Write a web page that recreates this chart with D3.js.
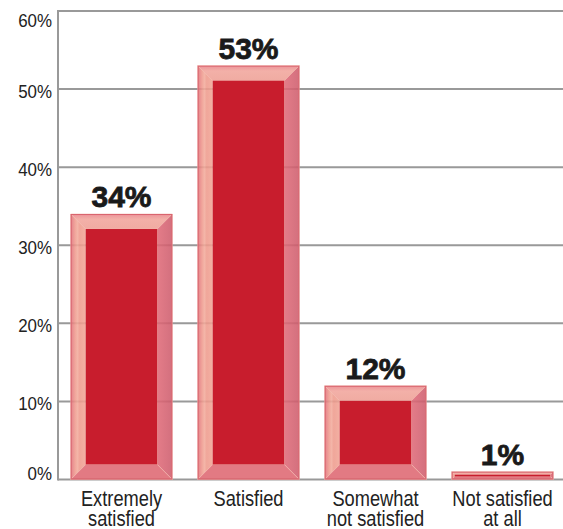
<!DOCTYPE html>
<html>
<head>
<meta charset="utf-8">
<script src="https://cdn.jsdelivr.net/npm/d3@7"></script>
<style>
  html, body { margin: 0; padding: 0; background: #fff; }
  svg { display: block; }
</style>
</head>
<body>
<svg id="chart" width="563" height="529"></svg>
<script>
// Survey results: share of respondents by satisfaction level
const categories = [
  ["Extremely", "satisfied"],
  ["Satisfied"],
  ["Somewhat", "not satisfied"],
  ["Not satisfied", "at all"]
];
const values = [34, 53, 12, 1];
const tickValues = [0, 10, 20, 30, 40, 50, 60];

const W = 563, H = 529;
const plotLeft = 58, plotRight = 566, plotTop = 11, plotBottom = 479.5;
const fontFamily = "'Liberation Sans', Arial, Helvetica, sans-serif";

const svg = d3.select("#chart");

const x = d3.scaleBand()
  .domain(d3.range(values.length))
  .range([plotLeft, plotRight])
  .paddingInner(0.2)
  .paddingOuter(0.1);

const y = d3.scaleLinear().domain([0, 60]).range([plotBottom, plotTop]);

// Horizontal gridlines
svg.append("g")
  .selectAll("line")
  .data(tickValues)
  .join("line")
  .attr("x1", plotLeft)
  .attr("x2", W)
  .attr("y1", d => y(d))
  .attr("y2", d => y(d))
  .attr("stroke", "#999")
  .attr("stroke-width", 2);

// Vertical axis line
svg.append("line")
  .attr("x1", plotLeft).attr("x2", plotLeft)
  .attr("y1", y(60) - 1).attr("y2", y(0) + 1)
  .attr("stroke", "#999")
  .attr("stroke-width", 2);

// Tick labels (kept inside the plot's vertical extent)
svg.append("g")
  .selectAll("g")
  .data(tickValues)
  .join("g")
  .attr("transform", d => `translate(52,${Math.min(480, Math.max(27, y(d) + 9))})`)
  .append("text")
  .attr("transform", "scale(0.94,1)")
  .attr("text-anchor", "end")
  .attr("font-family", fontFamily)
  .attr("font-size", 18)
  .attr("fill", "#222")
  .text(d => d + "%");

// Bevelled bars
const defs = svg.append("defs");
const gTop = defs.append("linearGradient").attr("id", "gTop").attr("x1", 0).attr("y1", 0).attr("x2", 0).attr("y2", 1);
gTop.append("stop").attr("offset", 0).attr("stop-color", "#e9848a");
gTop.append("stop").attr("offset", 0.35).attr("stop-color", "#f1a59c");
gTop.append("stop").attr("offset", 1).attr("stop-color", "#eea095");
const gLeft = defs.append("linearGradient").attr("id", "gLeft").attr("x1", 0).attr("y1", 0).attr("x2", 1).attr("y2", 0);
gLeft.append("stop").attr("offset", 0).attr("stop-color", "#e0707a");
gLeft.append("stop").attr("offset", 0.3).attr("stop-color", "#ef9a8e");
gLeft.append("stop").attr("offset", 0.45).attr("stop-color", "#f2ab9c");
gLeft.append("stop").attr("offset", 0.6).attr("stop-color", "#ee9a8c");
gLeft.append("stop").attr("offset", 1).attr("stop-color", "#f1a596");
const gRight = defs.append("linearGradient").attr("id", "gRight").attr("x1", 0).attr("y1", 0).attr("x2", 1).attr("y2", 0);
gRight.append("stop").attr("offset", 0).attr("stop-color", "#e06a78");
gRight.append("stop").attr("offset", 1).attr("stop-color", "#cd5c6c");

const bars = svg.append("g")
  .selectAll("g")
  .data(values)
  .join("g");

bars.each(function(v, i) {
  const g = d3.select(this);
  const x0 = x(i), x1 = x(i) + x.bandwidth();
  const y0 = y(v), y1 = y(0);
  const b = Math.min(15, (y1 - y0) * 0.38);
  const ix0 = x0 + b, ix1 = x1 - b, iy0 = y0 + b, iy1 = y1 - b;
  const faces = [
    { pts: [[x0, y0], [x1, y0], [ix1, iy0], [ix0, iy0]], fill: "url(#gTop)" },
    { pts: [[x0, y0], [ix0, iy0], [ix0, iy1], [x0, y1]], fill: "url(#gLeft)" },
    { pts: [[x1, y0], [x1, y1], [ix1, iy1], [ix1, iy0]], fill: "url(#gRight)" },
    { pts: [[x0, y1], [ix0, iy1], [ix1, iy1], [x1, y1]], fill: "#de6872" }
  ];
  g.selectAll("polygon")
    .data(faces)
    .join("polygon")
    .attr("points", d => d.pts.map(p => p.join(",")).join(" "))
    .attr("fill", d => d.fill)
    .attr("fill-opacity", 0.88)
    .attr("stroke", "#f4b8ae")
    .attr("stroke-width", 0.6);
  g.append("rect")
    .attr("x", ix0).attr("y", iy0)
    .attr("width", ix1 - ix0).attr("height", Math.max(0, iy1 - iy0))
    .attr("fill", "#c81d2d");
  g.append("rect")
    .attr("x", x0 + 0.5).attr("y", y0 + 0.5)
    .attr("width", x1 - x0 - 1).attr("height", y1 - y0 - 1)
    .attr("fill", "none")
    .attr("stroke", "#d9656f")
    .attr("stroke-width", 1);
});

// Value labels
svg.append("g")
  .selectAll("text")
  .data(values)
  .join("text")
  .attr("x", (d, i) => x(i) + x.bandwidth() / 2)
  .attr("y", d => y(d) - 7)
  .attr("text-anchor", "middle")
  .attr("font-family", fontFamily)
  .attr("font-weight", "bold")
  .attr("font-size", 30)
  .attr("fill", "#1a1a1a")
  .attr("stroke", "#1a1a1a")
  .attr("stroke-width", 0.8)
  .text(d => d + "%");

// Category labels, horizontally condensed
const cat = svg.append("g")
  .selectAll("g")
  .data(categories)
  .join("g")
  .attr("transform", (d, i) => `translate(${x(i) + x.bandwidth() / 2},506)`)
  .append("text")
  .attr("transform", "scale(0.83,1)")
  .attr("text-anchor", "middle")
  .attr("font-family", fontFamily)
  .attr("font-size", 22)
  .attr("fill", "#222");
cat.selectAll("tspan")
  .data(d => d)
  .join("tspan")
  .attr("x", 0)
  .attr("dy", (d, j) => j === 0 ? 0 : 20)
  .text(d => d);
</script>
</body>
</html>
